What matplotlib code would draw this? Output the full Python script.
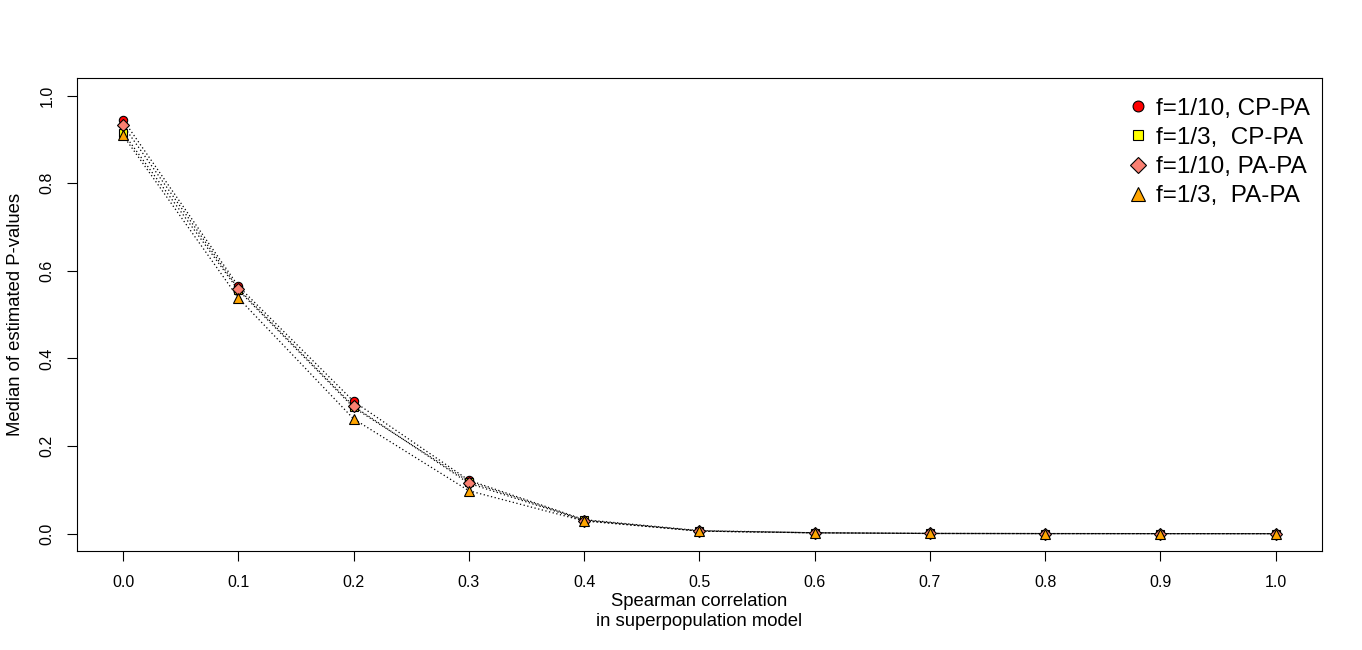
import numpy as np
import matplotlib.pyplot as plt

plt.rcParams['font.family'] = ['Liberation Sans', 'DejaVu Sans']

# x: Spearman correlation
rho = [0.0, 0.1, 0.2, 0.3, 0.4, 0.5, 0.6, 0.7, 0.8, 0.9, 1.0]

# median of estimated P-values
cp_10 = [0.945, 0.565, 0.302, 0.122, 0.032, 0.007, 0.002, 0.0005, 0.0002, 0.0001, 0.0]
cp_3 = [0.915, 0.556, 0.288, 0.119, 0.031, 0.006, 0.002, 0.0005, 0.0002, 0.0001, 0.0]
pa_10 = [0.932, 0.559, 0.291, 0.115, 0.030, 0.006, 0.002, 0.0005, 0.0002, 0.0001, 0.0]
pa_3 = [0.909, 0.538, 0.262, 0.098, 0.029, 0.006, 0.002, 0.0005, 0.0002, 0.0001, 0.0]

labels = ["f=1/10, CP-PA", "f=1/3,  CP-PA", "f=1/10, PA-PA", "f=1/3,  PA-PA"]
colors = ['red', 'yellow', 'salmon', 'orange']
markers = ['o', 's', 'D', '^']
sizes = [6, 5.5, 6, 7.5]

fig = plt.figure(figsize=(13.62, 6.5), dpi=100)
ax = fig.add_axes([0.0565, 0.152, 0.914, 0.728])

series = [cp_10, cp_3, pa_10, pa_3]
for y, c, m, s, lab in zip(series, colors, markers, sizes, labels):
    ax.plot(rho, y, color='black', linestyle=(0, (1, 2)), linewidth=0.9, zorder=2)
    ax.plot(rho, y, linestyle='none', marker=m, markersize=s,
            markerfacecolor=c, markeredgecolor='black', markeredgewidth=0.8,
            label=lab, zorder=3)

ax.set_xlim(-0.04, 1.04)
ax.set_ylim(-0.04, 1.04)
ax.set_xticks(rho)
ax.set_xticklabels([f"{v:.1f}" for v in rho])
yt = [0.0, 0.2, 0.4, 0.6, 0.8, 1.0]
ax.set_yticks(yt)
ax.set_yticklabels([f"{v:.1f}" for v in yt], rotation=90, va='center')
ax.tick_params(direction='out', length=7, labelsize=11.5)
ax.tick_params(axis='x', pad=10)
ax.tick_params(axis='y', pad=9)

ax.set_xlabel("Spearman correlation\nin superpopulation model", fontsize=13.3,
              linespacing=1.25, labelpad=2)
ax.set_ylabel("Median of estimated P-values", fontsize=13.3, labelpad=11)

ax.legend(loc='upper right', frameon=False, fontsize=17.5, handletextpad=0.25,
          labelspacing=0.3, borderaxespad=0.5, handlelength=1.0, markerscale=1.3,
          bbox_to_anchor=(1.008, 1.005))

fig.savefig('out.png', dpi=100)
